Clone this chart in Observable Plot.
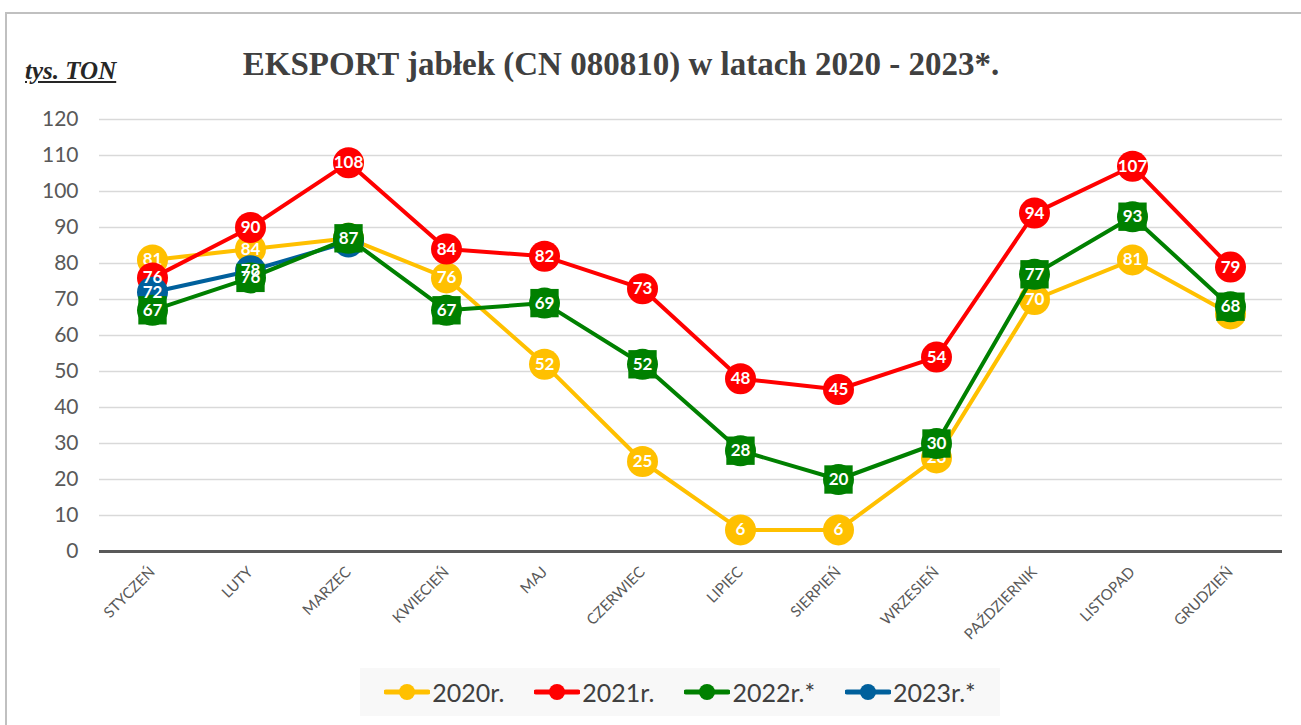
<!DOCTYPE html>
<html>
<head>
<meta charset="utf-8">
<script src="https://cdn.jsdelivr.net/npm/d3@7"></script>
<script src="https://cdn.jsdelivr.net/npm/@observablehq/plot@0.6"></script>
<style>
  html, body { margin: 0; padding: 0; background: #fff; overflow: hidden; }
  #wrap { position: relative; width: 1301px; height: 725px; overflow: hidden; }
  #frame { position: absolute; left: 5px; top: 12px; width: 1400px; height: 800px; border: 2px solid #c0c0c0; box-sizing: border-box; }
  #title { position: absolute; left: 0; top: 46px; width: 1242px; text-align: center; font-family: "Liberation Serif", serif; font-weight: bold; font-size: 33px; color: #404040; white-space: nowrap; }
  #unit { position: absolute; left: 25px; top: 57px; font-family: "Liberation Serif", serif; font-weight: bold; font-style: italic; font-size: 25px; color: #262626; text-decoration: underline; }
  #chart { position: absolute; left: 0; top: 0; }
  #legend { position: absolute; left: 360px; top: 668px; width: 640px; height: 48px; background: #f8f8f8; display: flex; align-items: center; justify-content: center; gap: 30px; font-family: Lato, sans-serif; font-size: 25px; color: #404040; }
  .item { display: flex; align-items: center; gap: 2px; }
</style>
</head>
<body>
<div id="wrap">
  <div id="frame"></div>
  <div id="chart"></div>
  <div id="title">EKSPORT jabłek (CN 080810) w latach 2020 - 2023*.</div>
  <div id="unit">tys. TON</div>
  <div id="legend"></div>
</div>
<script>
const months = ["STYCZEŃ","LUTY","MARZEC","KWIECIEŃ","MAJ","CZERWIEC","LIPIEC","SIERPIEŃ","WRZESIEŃ","PAŹDZIERNIK","LISTOPAD","GRUDZIEŃ"];
const y2020 = [81,84,87,76,52,25,6,6,26,70,81,66];
const y2021 = [76,90,108,84,82,73,48,45,54,94,107,79];
const y2022 = [67,76,87,67,69,52,28,20,30,77,93,68];
const y2023 = [72,78,86];
const yTicks = [0,10,20,30,40,50,60,70,80,90,100,110,120];
const seriesNames = ["2020r.","2021r.","2022r.*","2023r.*"];
const seriesColors = ["#FFC000","#FF0000","#008000","#00609C"];

const rows = arr => arr.map((v,i) => ({m: months[i], v}));
const d2020 = rows(y2020), d2021 = rows(y2021), d2022 = rows(y2022), d2023 = rows(y2023);

const labelStyle = {x:"m", y:"v", text: d => d.v, fill:"white", fontWeight:"bold", fontSize:17, fontFamily:"Lato, sans-serif"};

function lineDots(data, color, square) {
  const ms = [
    Plot.line(data, {x:"m", y:"v", stroke: color, strokeWidth: 4}),
    Plot.dot(data, {x:"m", y:"v", r: 15.5, fill: color, stroke: "none"})
  ];
  if (square) ms.push(Plot.dot(data, {x:"m", y:"v", r: 16, symbol: "square", fill: color, stroke: "none"}));
  return ms;
}

// blue labels that coincide with green markers stay beneath them
const blueOver = d2023.filter((d,i) => Math.abs(d.v - y2022[i]) > 1.5);
const blueUnder = d2023.filter((d,i) => Math.abs(d.v - y2022[i]) <= 1.5);

const chart = Plot.plot({
  width: 1301,
  height: 650,
  marginTop: 119,
  marginBottom: 99,
  marginLeft: 99,
  marginRight: 19,
  x: {type: "point", domain: months, padding: 0.5},
  y: {domain: [0, 120]},
  style: {fontFamily: "Lato, sans-serif", background: "transparent", overflow: "visible"},
  marks: [
    Plot.ruleY(yTicks.filter(d => d > 0), {stroke: "#d9d9d9", strokeWidth: 1.5}),
    Plot.ruleY([0], {stroke: "#595959", strokeWidth: 3}),
    Plot.axisY({ticks: yTicks, tickSize: 0, tickPadding: 21, fontSize: 21, fill: "#595959", label: null}),
    Plot.axisX({tickSize: 0, tickRotate: -45, tickPadding: 18, fontSize: 15, fill: "#595959", label: null}),
    ...lineDots(d2020, seriesColors[0]),
    Plot.text(d2020, labelStyle),
    ...lineDots(d2021, seriesColors[1]),
    ...lineDots(d2023, seriesColors[3]),
    Plot.text(d2021, labelStyle),
    Plot.text(blueUnder, labelStyle),
    ...lineDots(d2022, seriesColors[2], true),
    Plot.text(blueOver, labelStyle),
    Plot.text(d2022, labelStyle)
  ]
});
document.getElementById("chart").appendChild(chart);

const legend = document.getElementById("legend");
seriesNames.forEach((name, i) => {
  const item = document.createElement("div");
  item.className = "item";
  item.innerHTML = `<svg width="46" height="20"><line x1="2" y1="10" x2="44" y2="10" stroke="${seriesColors[i]}" stroke-width="5" stroke-linecap="round"/><circle cx="23" cy="10" r="8" fill="${seriesColors[i]}"/></svg><span>${name}</span>`;
  legend.appendChild(item);
});
</script>
</body>
</html>
